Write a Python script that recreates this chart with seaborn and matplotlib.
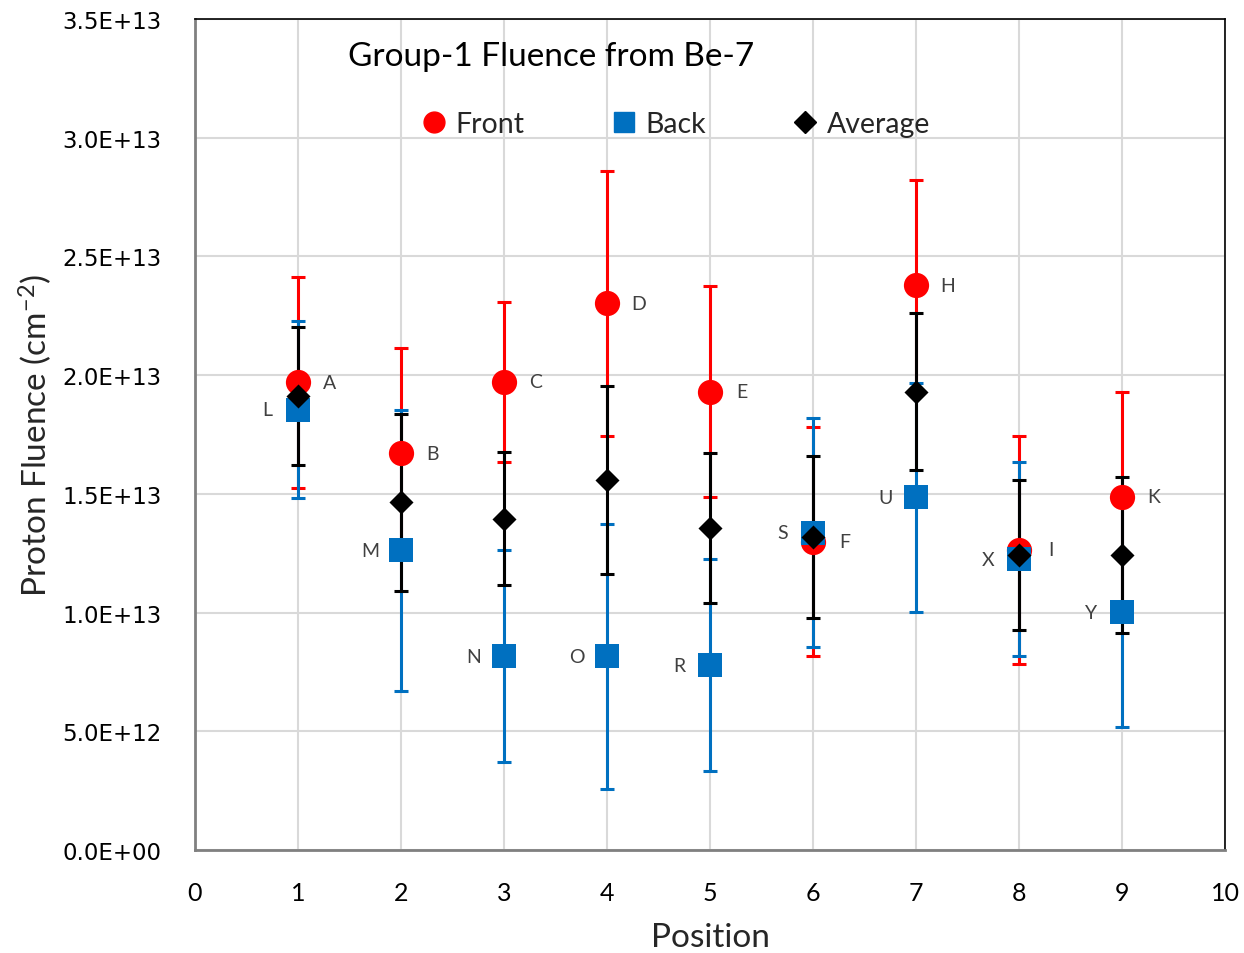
import numpy as np
import pandas as pd
import seaborn as sns
import matplotlib.pyplot as plt
from matplotlib.lines import Line2D

# Group-1 proton fluence (cm^-2) derived from Be-7 activity
position = [1, 2, 3, 4, 5, 6, 7, 8, 9]

front = [1.970e13, 1.670e13, 1.972e13, 2.302e13, 1.931e13, 1.298e13, 2.378e13, 1.265e13, 1.487e13]
front_err = [0.445e13, 0.445e13, 0.337e13, 0.557e13, 0.445e13, 0.483e13, 0.445e13, 0.480e13, 0.443e13]
front_labels = ["A", "B", "C", "D", "E", "F", "H", "I", "K"]

back = [1.855e13, 1.262e13, 0.816e13, 0.816e13, 0.779e13, 1.336e13, 1.486e13, 1.225e13, 1.002e13]
back_err = [0.372e13, 0.592e13, 0.446e13, 0.557e13, 0.446e13, 0.483e13, 0.482e13, 0.410e13, 0.483e13]
back_labels = ["L", "M", "N", "O", "R", "S", "U", "X", "Y"]

average = [1.912e13, 1.465e13, 1.396e13, 1.559e13, 1.355e13, 1.319e13, 1.931e13, 1.243e13, 1.243e13]
average_err = [0.292e13, 0.373e13, 0.280e13, 0.395e13, 0.315e13, 0.342e13, 0.330e13, 0.317e13, 0.330e13]

y_ticks = [0, 5e12, 1e13, 1.5e13, 2e13, 2.5e13, 3e13, 3.5e13]
y_tick_labels = ["0.0E+00", "5.0E+12", "1.0E+13", "1.5E+13", "2.0E+13",
                 "2.5E+13", "3.0E+13", "3.5E+13"]
x_ticks = list(range(0, 11))

sns.set_theme(style="whitegrid")
plt.rcParams["font.family"] = ["Lato", "DejaVu Sans"]
plt.rcParams["mathtext.default"] = "regular"

df = pd.DataFrame({
    "Position": position * 3,
    "Fluence": front + back + average,
    "Err": front_err + back_err + average_err,
    "Series": ["Front"] * 9 + ["Back"] * 9 + ["Average"] * 9,
})

colors = {"Front": "#FF0000", "Back": "#0070C0", "Average": "#000000"}
markers = {"Front": "o", "Back": "s", "Average": "D"}
sizes = {"Front": 330, "Back": 310, "Average": 150}

fig = plt.figure(figsize=(12.44, 9.54), dpi=100)
ax = fig.add_axes([195 / 1244, 1 - 851 / 954, 1030 / 1244, 831 / 954])

# error bars underneath every marker
for name in ["Front", "Back", "Average"]:
    sub = df[df["Series"] == name]
    ax.errorbar(sub["Position"], sub["Fluence"], yerr=sub["Err"], fmt="none",
                ecolor=colors[name], elinewidth=2.2, capsize=5, capthick=2.2, zorder=2)

for name in ["Front", "Back", "Average"]:
    sub = df[df["Series"] == name]
    sns.scatterplot(data=sub, x="Position", y="Fluence", ax=ax, color=colors[name],
                    marker=markers[name], s=sizes[name], linewidth=0, zorder=3,
                    legend=False)

for x, y, lab in zip(position, front, front_labels):
    ax.annotate(lab, (x, y), xytext=(23, 0), textcoords="offset points",
                ha="center", va="center", fontsize=14, color="#404040", zorder=4)
for x, y, lab in zip(position, back, back_labels):
    ax.annotate(lab, (x, y), xytext=(-22, 0), textcoords="offset points",
                ha="center", va="center", fontsize=14, color="#404040", zorder=4)

ax.set_xlim(0, 10)
ax.set_ylim(0, 3.5e13)
ax.set_xticks(x_ticks)
ax.set_xticklabels([str(t) for t in x_ticks], fontsize=18)
ax.set_yticks(y_ticks)
ax.set_yticklabels(y_tick_labels, fontsize=16.5, family="DejaVu Sans")
ax.tick_params(axis="both", length=0, colors="black")
ax.tick_params(axis="y", pad=24)
ax.tick_params(axis="x", pad=22)
ax.grid(True, color="#D9D9D9", linewidth=1.5)
ax.set_axisbelow(True)

for side in ["top", "right"]:
    ax.spines[side].set_color("black")
    ax.spines[side].set_linewidth(1.2)
for side in ["left", "bottom"]:
    ax.spines[side].set_color("#808080")
    ax.spines[side].set_linewidth(2)

ax.set_xlabel("Position", fontsize=24, labelpad=13)
ax.set_ylabel("Proton Fluence (cm$^{-2}$)", fontsize=24, labelpad=6)

ax.text(0.1485, 0.956, "Group-1 Fluence from Be-7", transform=ax.transAxes,
        fontsize=24, ha="left", va="center", color="black")

handles = [
    Line2D([], [], linestyle="none", marker="o", markersize=15, color=colors["Front"], label="Front"),
    Line2D([], [], linestyle="none", marker="s", markersize=14, color=colors["Back"], label="Back"),
    Line2D([], [], linestyle="none", marker="D", markersize=11, color=colors["Average"], label="Average"),
]
ax.legend(handles=handles, ncol=3, loc="center left", bbox_to_anchor=(0.207, 0.874),
          frameon=False, fontsize=20.5, handlelength=1.0, handletextpad=0.25,
          columnspacing=3.0, borderaxespad=0)

fig.savefig("out.png", dpi=100)
